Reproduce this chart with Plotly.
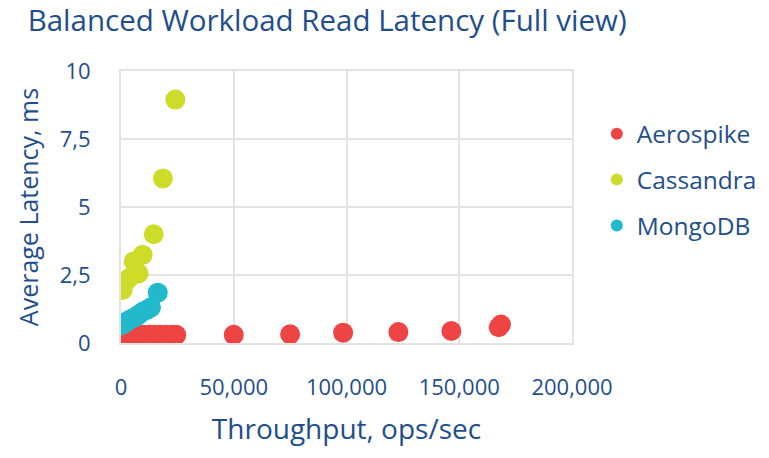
import plotly.graph_objects as go

title = "Balanced Workload Read Latency (Full view)"
x_title = "Throughput, ops/sec"
y_title = "Average Latency, ms"

aero_x = [500, 1500, 3000, 4500, 6000, 8000, 10000, 12500, 15000, 17500, 20000, 22500, 24500,
          50000, 75000, 98500, 123000, 146500, 167500, 168500]
aero_y = [0.37, 0.34, 0.33, 0.31, 0.30, 0.30, 0.30, 0.30, 0.30, 0.30, 0.30, 0.30, 0.30,
          0.30, 0.32, 0.38, 0.40, 0.44, 0.58, 0.68]

cass_x = [700, 1500, 2500, 3700, 5600, 7800, 9600, 14500, 18600, 24100]
cass_y = [1.95, 2.2, 2.3, 2.39, 3.0, 2.56, 3.24, 4.0, 6.05, 8.95]

mongo_x = [400, 1500, 2500, 3700, 5000, 6700, 8000, 9600, 11500, 13300, 16300]
mongo_y = [0.66, 0.72, 0.78, 0.85, 0.9, 0.97, 1.05, 1.15, 1.22, 1.31, 1.85]

x_ticks = [0, 50000, 100000, 150000, 200000]
x_tick_text = ["0", "50,000", "100,000", "150,000", "200,000"]
y_ticks = [0, 2.5, 5, 7.5, 10]
y_tick_text = ["0", "2,5", "5", "7,5", "10"]

names = ["Aerospike", "Cassandra", "MongoDB"]
colors = ["#EF4444", "#CDDC29", "#22B9CC"]

font_family = "'Open Sans', Lato, sans-serif"
text_color = "#1F4E8C"

fig = go.Figure()
for name, xs, ys, c in zip(names, [aero_x, cass_x, mongo_x], [aero_y, cass_y, mongo_y], colors):
    fig.add_trace(go.Scatter(x=xs, y=ys, mode="markers", name=name, legendgroup=name,
                             marker=dict(color=c, size=20, line=dict(width=0))))

fig.update_layout(
    width=769, height=458,
    margin=dict(l=121, r=197, t=71, b=115, autoexpand=False),
    paper_bgcolor="white", plot_bgcolor="white",
    font=dict(family=font_family, color=text_color),
    title=dict(text=title, x=0.036, xanchor="left", y=0.955, yanchor="middle",
               font=dict(size=29.5, color=text_color, family=font_family)),
    showlegend=True,
    legend=dict(x=1.055, xanchor="left", y=0.60, yanchor="middle",
                font=dict(size=24.5, color=text_color), itemsizing="constant",
                tracegroupgap=11),
    xaxis=dict(range=[0, 200000], tickvals=x_ticks, ticktext=x_tick_text,
               showgrid=True, gridcolor="#E3E3E3", gridwidth=2, zeroline=False,
               showline=True, linecolor="#E3E3E3", linewidth=2, mirror=True,
               ticks="outside", ticklen=24, tickcolor="rgba(0,0,0,0)",
               tickfont=dict(size=22, color=text_color),
               title=dict(text=x_title, font=dict(size=28, color=text_color), standoff=19)),
    yaxis=dict(range=[0, 10], tickvals=y_ticks, ticktext=y_tick_text,
               showgrid=True, gridcolor="#E3E3E3", gridwidth=2, zeroline=False,
               showline=True, linecolor="#E3E3E3", linewidth=2, mirror=True,
               ticks="outside", ticklen=24, tickcolor="rgba(0,0,0,0)",
               tickfont=dict(size=22, color=text_color),
               title=dict(text=y_title, font=dict(size=25, color=text_color), standoff=14)),
)

fig.write_html("out.html", config={"displayModeBar": False},
               post_script="document.body.style.margin='0';")
